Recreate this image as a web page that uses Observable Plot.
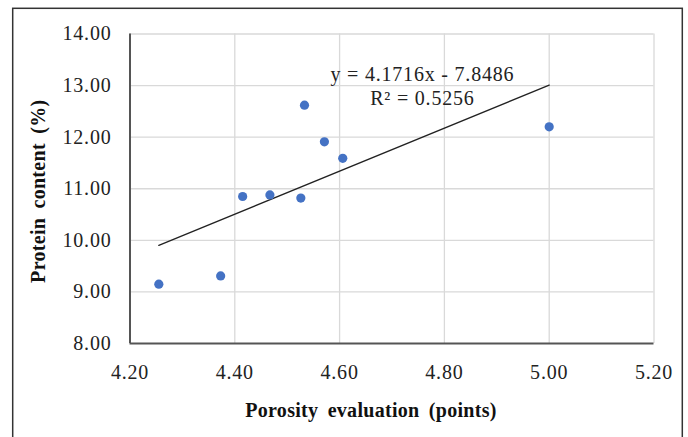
<!DOCTYPE html>
<html>
<head>
<meta charset="utf-8">
<script src="https://cdn.jsdelivr.net/npm/d3@7"></script>
<script src="https://cdn.jsdelivr.net/npm/@observablehq/plot@0.6"></script>
<style>
  html, body { margin: 0; padding: 0; background: #fff; }
  #chart svg { display: block; }
  #chart svg text { letter-spacing: 0.8px; }
  #chart .ttl text { letter-spacing: 0.3px; word-spacing: 4px; }
  #chart .eq text { letter-spacing: 0.8px; }
</style>
</head>
<body>
<div id="chart"></div>
<script>
// Data
const porosity = [4.255, 4.373, 4.415, 4.467, 4.526, 4.533, 4.571, 4.606, 5.00];
const protein  = [9.15, 9.31, 10.85, 10.88, 10.82, 12.62, 11.91, 11.59, 12.20];
const slope = 4.1716;
const intercept = -7.8486;
const rSquared = 0.5256;
const xTicks = [4.2, 4.4, 4.6, 4.8, 5.0, 5.2];
const yTicks = [8, 9, 10, 11, 12, 13, 14];
const xTitle = "Porosity evaluation (points)";
const yTitle = "Protein content (%)";

const points = porosity.map((x, i) => ({x, y: protein[i]}));
const xr = d3.extent(porosity);
const trend = xr.map(x => ({x, y: slope * x + intercept}));
const eqText = `y = ${slope}x - ${Math.abs(intercept)}\nR² = ${rSquared}`;

const W = 688, H = 437;
const plot = Plot.plot({
  width: W,
  height: H,
  marginLeft: 129.5,
  marginRight: 34.5,
  marginTop: 33.5,
  marginBottom: 94,
  style: {fontFamily: "'Liberation Serif', 'Times New Roman', serif", fontSize: "20px", color: "#222", background: "#fff"},
  x: {domain: [4.2, 5.2], type: "linear"},
  y: {domain: [8, 14], type: "linear"},
  marks: [
    Plot.gridX(xTicks.slice(1), {stroke: "#d9d9d9", strokeOpacity: 1, strokeWidth: 1.3}),
    Plot.gridY(yTicks.slice(1), {stroke: "#d9d9d9", strokeOpacity: 1, strokeWidth: 1.3}),
    Plot.axisX(xTicks, {tickFormat: d3.format(".2f"), tickSize: 0, tickPadding: 21, label: null, fontSize: 20, fill: "#222"}),
    Plot.axisY(yTicks, {tickFormat: d3.format(".2f"), tickSize: 0, tickPadding: 18.5, label: null, fontSize: 20, fill: "#222"}),
    Plot.ruleX([4.2], {stroke: "#555", strokeWidth: 2}),
    Plot.ruleY([8], {stroke: "#555", strokeWidth: 2}),
    Plot.line(trend, {x: "x", y: "y", stroke: "#222", strokeWidth: 1.3}),
    Plot.dot(points, {x: "x", y: "y", r: 4.6, fill: "#4472c4", stroke: null}),
    Plot.text([eqText], {x: 4.758, y: 13.0, text: d => d, fontSize: 20, lineHeight: 1.2, textAnchor: "middle", fill: "#222", className: "eq"}),
    Plot.text([xTitle], {frameAnchor: "bottom", text: d => d, textAnchor: "middle", lineAnchor: "middle", dx: -21, dy: 67, fontSize: 20, fontWeight: "bold", fill: "#111", className: "ttl"}),
    Plot.text([yTitle], {frameAnchor: "left", text: d => d, textAnchor: "middle", lineAnchor: "middle", rotate: -90, dx: -91.5, dy: 2.5, fontSize: 20, fontWeight: "bold", fill: "#111", className: "ttl"})
  ]
});

d3.select(plot).append("rect")
  .attr("x", 12.7).attr("y", 8.3)
  .attr("width", 669.6).attr("height", 440)
  .attr("fill", "none").attr("stroke", "#333").attr("stroke-width", 1.5);

document.getElementById("chart").appendChild(plot);
</script>
</body>
</html>
